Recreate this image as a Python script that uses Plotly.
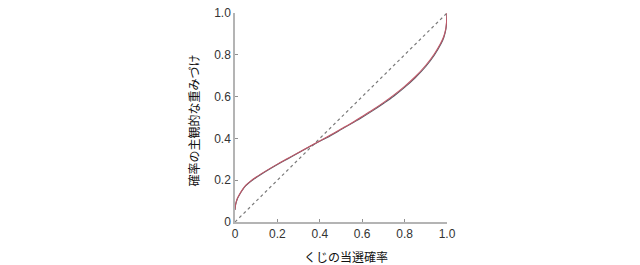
import plotly.graph_objects as go

# probability of winning (x) and subjective weight (y)
p_vals = [0.0, 0.003, 0.01, 0.02, 0.035, 0.05, 0.075, 0.1, 0.15, 0.2, 0.25, 0.3,
          0.37, 0.45, 0.5, 0.56, 0.6, 0.65, 0.7, 0.75, 0.8, 0.85, 0.9, 0.94,
          0.97, 0.985, 0.995, 1.0]
w_red = [0.06, 0.085, 0.11, 0.13, 0.155, 0.175, 0.197, 0.215, 0.247, 0.277, 0.305, 0.333,
         0.372, 0.416, 0.445, 0.480, 0.505, 0.537, 0.571, 0.608, 0.649, 0.695, 0.750, 0.804,
         0.855, 0.889, 0.929, 1.0]
w_dark = [0.058, 0.083, 0.108, 0.128, 0.153, 0.173, 0.195, 0.213, 0.245, 0.275, 0.303, 0.331,
          0.370, 0.413, 0.442, 0.477, 0.501, 0.533, 0.567, 0.603, 0.644, 0.690, 0.744, 0.798,
          0.849, 0.883, 0.924, 0.995]
diag = [0.0, 1.0]

tick_vals = [0, 0.2, 0.4, 0.6, 0.8, 1.0]
tick_text = ["0", "0.2", "0.4", "0.6", "0.8", "1.0"]

fig = go.Figure()
fig.add_trace(go.Scatter(x=diag, y=diag, mode="lines",
                         line=dict(color="#7a7a7a", width=1.2, dash="3px,3px"),
                         showlegend=False, hoverinfo="skip"))
fig.add_trace(go.Scatter(x=p_vals, y=w_dark, mode="lines", line_shape="spline",
                         line=dict(color="#5a5a66", width=1.1, smoothing=1.0),
                         showlegend=False))
fig.add_trace(go.Scatter(x=p_vals, y=w_red, mode="lines", line_shape="spline",
                         line=dict(color="#c05868", width=1.1, smoothing=1.0),
                         showlegend=False))

axis_common = dict(range=[0, 1], tickvals=tick_vals, ticktext=tick_text,
                   showgrid=False, zeroline=False, showline=True, automargin=False,
                   linecolor="#b4b4b4", linewidth=1.5,
                   ticks="inside", ticklen=3, tickcolor="#909090",
                   tickfont=dict(family="Liberation Sans, Arial", size=12, color="#333333"))

fig.update_layout(
    width=640, height=265,
    margin=dict(l=235, r=193, t=13, b=43),
    paper_bgcolor="white", plot_bgcolor="white",
    xaxis=dict(**axis_common),
    yaxis=dict(**axis_common),
    annotations=[
        dict(text="確率の主観的な重みづけ", xref="paper", yref="paper", x=0, y=0.5,
             xshift=-42, yshift=-3, textangle=-90, showarrow=False,
             xanchor="center", yanchor="middle",
             font=dict(family="Noto Sans CJK JP", size=12, color="#111111")),
        dict(text="くじの当選確率", xref="paper", yref="paper", x=0.5, y=0,
             xshift=5, yshift=-34, showarrow=False,
             xanchor="center", yanchor="middle",
             font=dict(family="Noto Sans CJK JP", size=12, color="#111111")),
    ],
)

fig.write_html("out.html")
